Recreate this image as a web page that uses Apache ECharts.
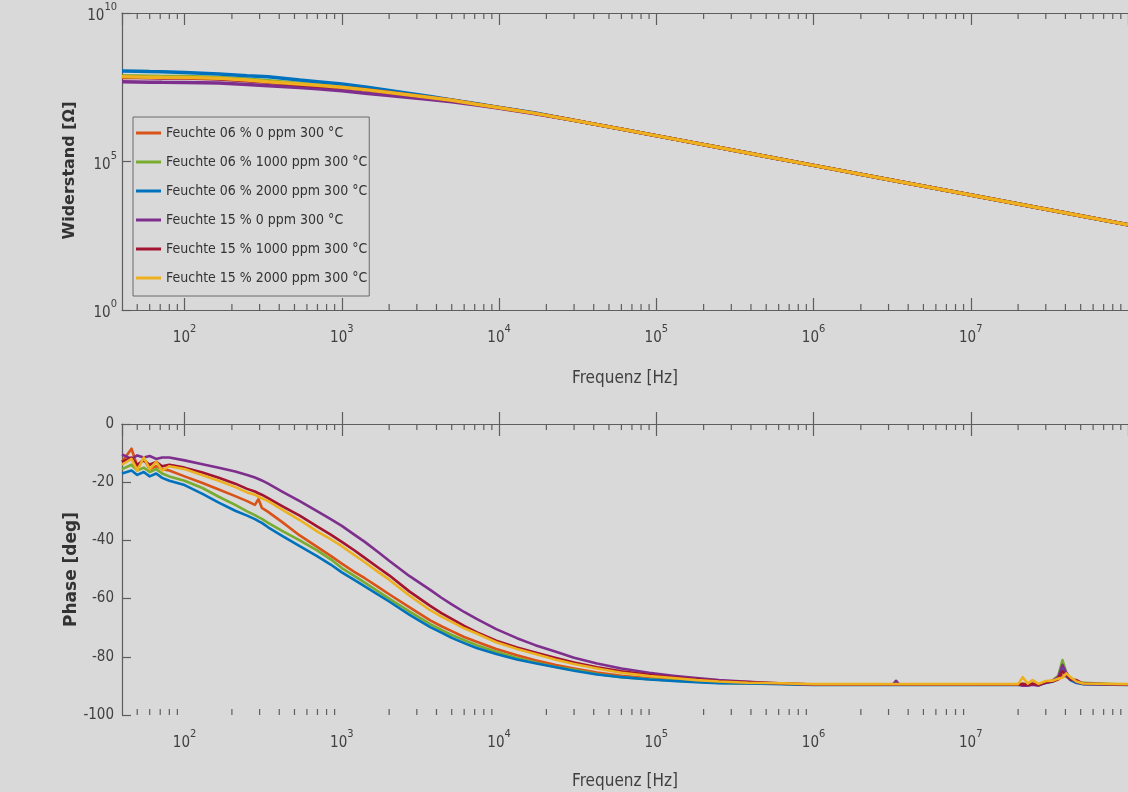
<!DOCTYPE html>
<html><head><meta charset="utf-8">
<script src="https://cdn.jsdelivr.net/npm/echarts@6/dist/echarts.min.js"></script>
<style>html,body{margin:0;padding:0;background:#d9d9d9;}#c{width:1128px;height:792px;}</style>
</head><body><div id="c"></div>
<script>
// ---------- data ----------
const SERIES_NAMES = ['Feuchte 06 % 0 ppm 300 °C','Feuchte 06 % 1000 ppm 300 °C','Feuchte 06 % 2000 ppm 300 °C',
  'Feuchte 15 % 0 ppm 300 °C','Feuchte 15 % 1000 ppm 300 °C','Feuchte 15 % 2000 ppm 300 °C'];
const COLORS = ['#D95319','#77AC30','#0072BD','#7E2F8E','#A2142F','#EDB120'];

// Resistance (top) – frequency in Hz, |Z| in Ohm
const FREQ_R = [40,50,60,72,100,165,250,340,540,700,1000,1410,2000,3650,5000,7200,9600,17000,
  30000,60000,128000,250000,540000,1e6,3.35e6,1e7,3.8e7,1e8];
const R_06_0    = [7.24e7,7.16e7,7.08e7,7.00e7,6.92e7,6.46e7,5.62e7,4.95e7,4.05e7,3.66e7,3.18e7,2.63e7,2.10e7,1.43e7,1.15e7,8.51e6,6.76e6,4.17e6,
  2.43e6,1.23e6,5.79e5,2.96e5,1.37e5,7.41e4,2.21e4,7.41e3,1.95e3,741];
const R_06_1000 = [7.59e7,7.50e7,7.41e7,7.33e7,7.24e7,6.76e7,5.89e7,5.19e7,4.24e7,3.83e7,3.26e7,2.63e7,2.10e7,1.43e7,1.15e7,8.51e6,6.76e6,4.17e6,
  2.43e6,1.23e6,5.79e5,2.96e5,1.37e5,7.41e4,2.21e4,7.41e3,1.95e3,741];
const R_06_2000 = [1.12e8,1.10e8,1.07e8,1.05e8,1.00e8,8.91e7,7.76e7,7.08e7,5.56e7,4.86e7,4.04e7,3.20e7,2.45e7,1.55e7,1.19e7,8.77e6,6.89e6,4.27e6,
  2.43e6,1.23e6,5.79e5,2.96e5,1.37e5,7.41e4,2.21e4,7.41e3,1.95e3,741];
const R_15_0    = [4.84e7,4.79e7,4.68e7,4.62e7,4.57e7,4.37e7,3.89e7,3.55e7,3.09e7,2.82e7,2.40e7,2.00e7,1.66e7,1.23e7,1.02e7,7.94e6,6.46e6,4.07e6,
  2.43e6,1.23e6,5.79e5,2.96e5,1.37e5,7.41e4,2.21e4,7.41e3,1.95e3,741];
const R_15_1000 = [6.76e7,6.68e7,6.61e7,6.53e7,6.46e7,6.03e7,5.25e7,4.62e7,3.86e7,3.49e7,3.11e7,2.63e7,2.10e7,1.43e7,1.15e7,8.51e6,6.76e6,4.17e6,
  2.43e6,1.23e6,5.79e5,2.96e5,1.37e5,7.41e4,2.21e4,7.41e3,1.95e3,741];
const R_15_2000 = [7.08e7,7.00e7,6.92e7,6.84e7,6.76e7,6.31e7,5.50e7,4.84e7,4.05e7,3.66e7,3.18e7,2.63e7,2.10e7,1.43e7,1.15e7,8.51e6,6.76e6,4.17e6,
  2.43e6,1.23e6,5.79e5,2.96e5,1.37e5,7.41e4,2.21e4,7.41e3,1.95e3,741];

// Phase (bottom) – frequency in Hz, phase in degrees
const FREQ_P = [40,46,50,55,60,66,72,80,
  100,130,165,210,250,280,295,310,340,420,540,700,850,1000,1200,1400,1700,2000,2700,3650,
  4300,5000,6000,7200,9600,13000,17000,23000,30000,42000,60000,90000,128000,180000,250000,380000,540000,
  1e6,3.2e6,3.35e6,3.5e6,1e7,2.0e7,2.14e7,2.3e7,2.47e7,2.7e7,3.0e7,3.3e7,3.6e7,3.83e7,4.05e7,4.3e7,4.7e7,5.2e7,1e8];
const P_06_0 = [-13,-8.5,-14.5,-12,-15.5,-14.5,-15.5,-16,
  -18,-20.3,-22.5,-24.8,-26.5,-27.8,-25.8,-28.8,-30.2,-33.8,-38.3,-42.3,-45.3,-48,-50.8,-53,-56,-58.5,-63,-67.5,
  -69.5,-71.2,-73.2,-74.8,-77.3,-79.5,-81.2,-82.8,-84,-85.4,-86.5,-87.4,-88,-88.5,-88.9,-89.1,-89.2,
  -89.6,-89.6,-89.6,-89.6,-89.6,-89.6,-89.2,-89.5,-89.2,-89.6,-88.6,-88.5,-87.8,-86.5,-86.8,-87.8,-88.6,-89.3,-89.6];
const P_06_1000 = [-15.5,-14,-16,-15,-16.5,-15.5,-17,-18,
  -19.5,-22,-25,-27.8,-30,-31.3,-32,-32.6,-34,-36.8,-40,-43.5,-46.5,-49.5,-52.2,-54.5,-57.5,-60,-64.5,-68.8,
  -70.8,-72.5,-74.3,-76,-78.3,-80.4,-82,-83.5,-84.5,-85.9,-87,-87.7,-88.2,-88.6,-89,-89.1,-89.2,
  -89.6,-89.6,-88.3,-89.6,-89.6,-89.6,-89.4,-89.6,-89.4,-89.6,-88.8,-88.2,-86.5,-81.1,-85.5,-87.8,-88.8,-88.9,-89.6];
const P_06_2000 = [-17,-16,-17.5,-16.5,-18,-17,-18.5,-19.5,
  -21,-24,-27,-29.8,-31.5,-32.7,-33.4,-34,-35.5,-38.5,-42,-45.5,-48.3,-51,-53.6,-55.8,-58.6,-61,-65.6,-69.8,
  -71.7,-73.5,-75.3,-77,-79,-80.9,-82.2,-83.6,-84.8,-86.1,-87,-87.8,-88.3,-88.7,-89.1,-89.2,-89.3,
  -89.7,-89.7,-89.7,-89.7,-89.7,-89.7,-89.5,-89.7,-89.5,-89.7,-89,-88.6,-87.5,-84.5,-86.5,-88,-89,-89.4,-89.7];
const P_15_0 = [-10.5,-12,-10.8,-11.5,-11,-12,-11.5,-11.5,
  -12.5,-13.8,-15,-16.3,-17.5,-18.4,-18.9,-19.4,-20.5,-23.3,-26.5,-30,-32.7,-35,-38,-40.5,-44,-47,-52.3,-57,
  -59.7,-62,-64.6,-67,-70.5,-73.6,-76,-78.3,-80.3,-82.3,-84,-85.5,-86.5,-87.3,-88,-88.6,-89,
  -89.5,-89.5,-88.3,-89.5,-89.5,-89.6,-89.9,-89.9,-89.6,-89.9,-88.8,-88.3,-87,-82.8,-85.5,-87.5,-88.7,-89.3,-89.6];
const P_15_1000 = [-13,-11.5,-14,-12.5,-14,-13,-14.5,-14,
  -15,-16.7,-18.5,-20.5,-22.3,-23.2,-23.8,-24.3,-25.5,-28.3,-31.5,-35.3,-38,-40.5,-43.4,-46,-49.3,-52,-57.6,-62.5,
  -65,-67,-69.4,-71.5,-74.5,-76.8,-78.5,-80.4,-82,-83.6,-85,-86.2,-87,-87.7,-88.3,-88.7,-89,
  -89.5,-89.5,-89.5,-89.5,-89.5,-89.6,-89.4,-89.6,-89.3,-89.6,-88.8,-88.5,-87.5,-85,-86.2,-87.8,-88,-89.2,-89.6];
const P_15_2000 = [-14,-12,-16,-11.5,-15.5,-13,-16,-14.5,
  -15.5,-17.6,-19.5,-21.7,-23.5,-24.3,-25,-25.5,-26.5,-29.5,-33,-37,-39.6,-42,-45,-47.5,-50.8,-53.5,-59,-64,
  -66.2,-68,-70.2,-72,-75,-77.3,-79,-81,-82.5,-84,-85.5,-86.6,-87.3,-88,-88.5,-88.9,-89,
  -89.4,-89.4,-89.4,-89.4,-89.4,-89.4,-87,-89.2,-88,-89.3,-88.3,-88.2,-87.5,-87.2,-85.7,-87,-88.5,-89.2,-89.4];

const R_VALUES = [R_06_0,R_06_1000,R_06_2000,R_15_0,R_15_1000,R_15_2000];
const P_VALUES = [P_06_0,P_06_1000,P_06_2000,P_15_0,P_15_1000,P_15_2000];

// ---------- styling ----------
const FONT = "'Liberation Sans Narrow','DejaVu Sans Condensed','Roboto Condensed',Roboto,sans-serif";
const AX = '#5e5e5e', TXT = '#404040';
const FMIN = 40, FMAX = 1e8;

const MINOR = [];
for (let e = 1; e < 8; e++) for (let k = 2; k < 10; k++) { const f = k * Math.pow(10, e); if (f > FMIN && f < FMAX) MINOR.push(f); }

const supRich = {
  b: {fontFamily: FONT, fontSize: 15, color: TXT, lineHeight: 22, verticalAlign: 'bottom'},
  s: {fontFamily: FONT, fontSize: 11, color: TXT, lineHeight: 22, verticalAlign: 'top'}
};
const powLabel = v => '{b|10}{s|' + Math.round(Math.log10(v)) + '}';

function xAxes(gi, gap) {
  return [
    {type: 'log', gridIndex: gi, min: FMIN, max: FMAX, position: 'bottom',
      axisLine: {show: true, lineStyle: {color: AX, width: 1.2}},
      axisTick: {show: true, inside: true, length: 12, lineStyle: {color: AX, width: 1.2}},
      axisLabel: {show: true, formatter: powLabel, rich: supRich, margin: 14, showMinLabel: false, showMaxLabel: false},
      splitLine: {show: false}, minorTick: {show: false},
      name: 'Frequenz [Hz]', nameLocation: 'middle', nameGap: gap, nameMoveOverlap: false,
      nameTextStyle: {fontFamily: FONT, fontSize: 17, color: TXT}},
    {type: 'log', gridIndex: gi, min: FMIN, max: FMAX, position: 'top',
      axisLine: {show: true, lineStyle: {color: AX, width: 1.2}},
      axisTick: {show: true, inside: true, length: 12, lineStyle: {color: AX, width: 1.2}},
      axisLabel: {show: false}, splitLine: {show: false}}
  ];
}

function minorTicks(xi, yi, yLo, yHi) {
  return {
    type: 'custom', xAxisIndex: xi, yAxisIndex: yi, silent: true, z: 1,
    data: MINOR.map(f => [f, yLo]),
    renderItem: (params, api) => {
      const f = api.value(0);
      const pb = api.coord([f, yLo]);
      const pt = api.coord([f, yHi]);
      const st = {stroke: AX, lineWidth: 1.2};
      return {type: 'group', children: [
        {type: 'line', shape: {x1: pb[0], y1: pb[1], x2: pb[0], y2: pb[1] - 6}, style: st},
        {type: 'line', shape: {x1: pt[0], y1: pt[1], x2: pt[0], y2: pt[1] + 6}, style: st}
      ]};
    }
  };
}

const series = [];
SERIES_NAMES.forEach((name, i) => {
  series.push({type: 'line', name, xAxisIndex: 0, yAxisIndex: 0, symbol: 'none',
    data: FREQ_R.map((f, j) => [f, R_VALUES[i][j]]),
    lineStyle: {color: COLORS[i], width: 3.5}, itemStyle: {color: COLORS[i]}, z: 2 + i});
});
SERIES_NAMES.forEach((name, i) => {
  series.push({type: 'line', name, xAxisIndex: 2, yAxisIndex: 1, symbol: 'none',
    data: FREQ_P.map((f, j) => [f, P_VALUES[i][j]]),
    lineStyle: {color: COLORS[i], width: 2.6, join: 'round'}, itemStyle: {color: COLORS[i]}, z: 2 + i});
});
series.push(minorTicks(0, 0, 1, 1e10));
series.push(minorTicks(2, 1, -100, 0));

const option = {
  animation: false,
  backgroundColor: '#d9d9d9',
  grid: [
    {left: 122, top: 13, width: 1020, height: 297},
    {left: 122, top: 424, width: 1020, height: 291}
  ],
  legend: {
    orient: 'vertical', left: 133, top: 117, data: SERIES_NAMES,
    icon: 'path://M0,0H25V3H0Z',
    itemWidth: 25, itemHeight: 14, itemGap: 15, padding: [9, 2, 11, 3],
    borderColor: '#6a6a6a', borderWidth: 1, backgroundColor: '#d9d9d9',
    textStyle: {fontFamily: FONT, fontSize: 14, color: '#333'}
  },
  xAxis: [...xAxes(0, 60), ...xAxes(1, 58)],
  yAxis: [
    {type: 'log', logBase: 1e5, gridIndex: 0, min: 1, max: 1e10,
      axisLine: {show: true, lineStyle: {color: AX, width: 1.2}},
      axisTick: {show: true, inside: true, length: 9, lineStyle: {color: AX, width: 1.2}},
      axisLabel: {formatter: powLabel, rich: supRich, margin: 5},
      splitLine: {show: false},
      name: 'Widerstand [Ω]', nameLocation: 'middle', nameGap: 44, nameMoveOverlap: false,
      nameTextStyle: {fontFamily: "'DejaVu Sans',sans-serif", fontSize: 16, fontWeight: 'bold', color: '#333', padding: [0, 18, 0, 0]}},
    {type: 'value', gridIndex: 1, min: -100, max: 0, interval: 20,
      axisLine: {show: true, lineStyle: {color: AX, width: 1.2}},
      axisTick: {show: true, inside: true, length: 9, lineStyle: {color: AX, width: 1.2}},
      axisLabel: {fontFamily: FONT, fontSize: 15, color: TXT, margin: 8},
      splitLine: {show: false},
      name: 'Phase [deg]', nameLocation: 'middle', nameGap: 42, nameMoveOverlap: false,
      nameTextStyle: {fontFamily: "'DejaVu Sans',sans-serif", fontSize: 17, fontWeight: 'bold', color: '#333'}}
  ],
  series
};
const chart = echarts.init(document.getElementById('c'), null, {renderer: 'canvas'});
chart.setOption(option);
</script></body></html>
